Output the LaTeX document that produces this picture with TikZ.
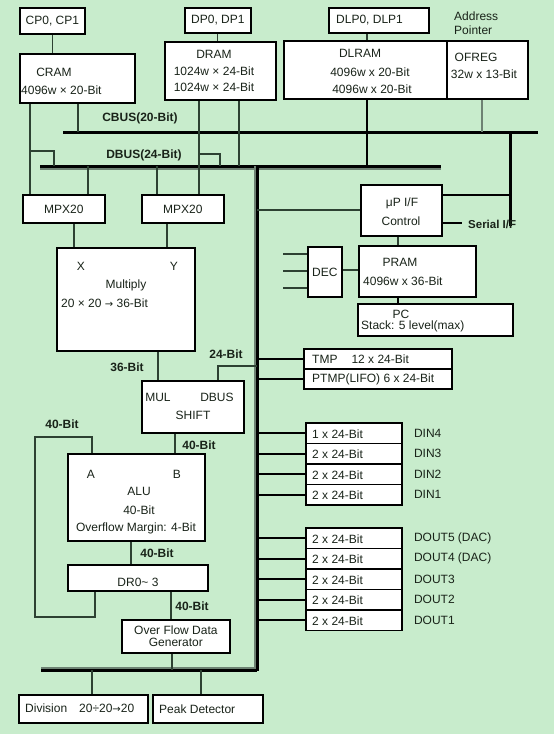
\documentclass[tikz,border=0pt]{standalone}
\usepackage{fontspec}
\setmainfont{Liberation Sans}
\newfontfamily\arrfont{DejaVu Sans}
\newcommand{\rarr}{{\arrfont\fontsize{10}{12}\selectfont →}}
\definecolor{bg}{RGB}{200,236,204}
\definecolor{wirec}{RGB}{45,65,50}
\definecolor{shade}{RGB}{110,130,115}
\definecolor{txt}{RGB}{25,35,25}
\tikzset{
  box/.style={draw=black, line width=1.8pt, fill=white, inner sep=0pt, anchor=north west, text=txt, font=\fontsize{12}{14}\selectfont, align=center},
  lbl/.style={inner sep=0pt, text=txt, font=\fontsize{12}{14}\selectfont},
  blbl/.style={inner sep=0pt, text=txt, font=\bfseries\fontsize{12}{14}\selectfont},
  wire/.style={draw=wirec, line width=1.1pt},
  twire/.style={draw=black, line width=2pt},
  busline/.style={draw=black, line width=3pt},
  busshade/.style={draw=shade, line width=2pt},
}
\begin{document}
\begin{tikzpicture}[x=1pt,y=-1pt]
\fill[bg] (0,0) rectangle (554,734);
\useasboundingbox (0,0) rectangle (554,734);

% ---- buses (coordinates)
\coordinate (cbusL) at (63,132);   \coordinate (cbusR) at (538,132);
\coordinate (sT) at (510,132);     \coordinate (sB) at (510,226);
\coordinate (dbusL) at (40,166);   \coordinate (dbusR) at (441,166);
\coordinate (mbT) at (257,166);    \coordinate (mbB) at (257,671);
\coordinate (bbL) at (41,670);     \coordinate (bbR) at (257,670);

\draw[busshade] ([yshift=-2.5pt]dbusL) -- ([yshift=-2.5pt]dbusR);
\draw[busline] (dbusL) -- (dbusR);
\draw[busshade] ([xshift=-2.5pt]mbT) -- ([xshift=-2.5pt]mbB);
\draw[busshade] ([yshift=2.5pt]bbL) -- ([yshift=2.5pt]bbR);
\draw[busline] (mbT) -- (mbB);
\draw[busline] (bbL) -- (bbR);
\draw[busline] (cbusL) -- (cbusR);
\draw[busline] (sT) -- (sB);

% ---- top memory blocks
\node[box, minimum width=65pt, minimum height=26pt] (cp) at (19,7) {CP0, CP1};
\node[box, minimum width=115pt, minimum height=49pt] (cram) at (19,53) {};
\node[lbl] (cramT) at (54,72) {CRAM};
\node[lbl, anchor=west] (cramS) at (21,90) {4096w × 20-Bit};

\node[box, minimum width=66pt, minimum height=25pt] (dp) at (184,7) {DP0, DP1};
\node[box, minimum width=111pt, minimum height=58pt] (dram) at (164,41) {};
\node[lbl, align=center, font=\fontsize{12}{16.5}\selectfont] (dramT) at (214,71) {DRAM\\1024w × 24-Bit\\1024w × 24-Bit};

\node[box, minimum width=100pt, minimum height=25pt] (dlp) at (328,7) {};
\node[lbl, anchor=west] (dlpT) at (336,20) {DLP0, DLP1};
\node[box, minimum width=163pt, minimum height=58pt] (dlram) at (283,40) {};
\node[lbl] (dlramT) at (360,53) {DLRAM};
\node[lbl] (dlramS1) at (370,72) {4096w x 20-Bit};
\node[lbl] (dlramS2) at (372,89) {4096w x 20-Bit};
\node[box, minimum width=81pt, minimum height=58pt] (ofreg) at (446,40) {};
\node[lbl] (ofregT) at (476,57) {OFREG};
\node[lbl] (ofregS) at (484,74) {32w x 13-Bit};
\node[lbl, anchor=west, align=left, font=\fontsize{12}{14}\selectfont] (addr) at (454,23) {Address\\Pointer};

\node[blbl] (cbusT) at (140,118) {CBUS(20-Bit)};
\node[blbl] (dbusT) at (144,155) {DBUS(24-Bit)};

% ---- top connectors
\draw[wire] (cp.south) -- (cp.south |- cram.north);
\coordinate (cr1) at ([xshift=11pt]cram.south west);
\coordinate (cr2) at ([xshift=59pt]cram.south west);
\draw[wire] (cr2) -- (cr2 |- cbusL);
\draw[wire] (dp.south) -- (dp.south |- dram.north);
\coordinate (dr1) at ([xshift=35pt]dram.south west);
\coordinate (dr2) at ([xshift=75pt]dram.south west);
\draw[wire] (dr2) -- (dr2 |- dbusL);
\coordinate (dl1) at ([xshift=84pt]dlram.south west);
\draw[wire] (dlp.south -| dl1) -- (dl1 |- dlram.north);
\draw[twire] (dl1) -- (dl1 |- dbusL);
\coordinate (of1) at ([xshift=36pt]ofreg.south west);
\draw[wire, draw=shade] (of1) -- (of1 |- cbusL);

% ---- MPX and multiplier
\node[box, minimum width=82pt, minimum height=28pt] (mpxl) at (22,194) {MPX20};
\node[box, minimum width=82pt, minimum height=28pt] (mpxr) at (141,194) {MPX20};
\draw[wire] (cr1) -- (cr1 |- mpxl.north);
\draw[wire] (cr1 |- 0,151) -| (54,0 |- dbusL);
\draw[wire] (dr1) -- (dr1 |- mpxr.north);
\draw[wire] (dr1 |- 0,154) -| (220,0 |- dbusL);
\draw[wire] (88,0 |- dbusL) -- (88,0 |- mpxl.north);
\draw[wire] (157,0 |- dbusL) -- (157,0 |- mpxr.north);

\node[box, minimum width=138pt, minimum height=103pt] (mult) at (56,247) {};
\node[lbl] (multX) at (81,266) {X};
\node[lbl] (multY) at (174,266) {Y};
\node[lbl] (multT) at (126,285) {Multiply};
\node[lbl, anchor=west] (multS) at (61,303) {20 × 20 \rarr\ 36-Bit};
\draw[wire] (74,0 |- mpxl.south) -- (74,0 |- mult.north);
\draw[wire] (167,0 |- mpxr.south) -- (167,0 |- mult.north);

\node[box, minimum width=102pt, minimum height=52pt] (mul) at (141,380) {};
\node[lbl] (mulA) at (158,397) {MUL};
\node[lbl] (mulB) at (217,397) {DBUS};
\node[lbl] (mulC) at (193,415) {SHIFT};
\draw[wire] (158,0 |- mult.south) -- (158,0 |- mul.north);
\node[blbl] (b36) at (127,367) {36-Bit};
\draw[wire] (218,0 |- mul.north) |- (mbT |- 0,366);
\node[blbl] (b24) at (226,354) {24-Bit};

% ---- ALU
\node[box, minimum width=137pt, minimum height=87pt] (alu) at (67,453) {};
\node[lbl] (aluA) at (91,474) {A};
\node[lbl] (aluB) at (177,474) {B};
\node[lbl] (aluT) at (139,491) {ALU};
\node[lbl] (aluS1) at (139,510) {40-Bit};
\node[lbl] (aluS2) at (136,528) {Overflow Margin: 4-Bit};
\draw[wire] (175,0 |- mul.south) -- (175,0 |- alu.north);
\node[blbl] (b40a) at (199,445) {40-Bit};

\node[box, minimum width=140pt, minimum height=26pt] (dr) at (67,564) {};
\node[lbl] (drT) at (138,582) {DR0\textasciitilde\ 3};
\draw[wire] (131,0 |- alu.south) -- (131,0 |- dr.north);
\node[blbl] (b40b) at (157,553) {40-Bit};
\draw[wire] (92,0 |- alu.north) -- (92,437) -- (35,437) -- (35,617) -- (95,617) -- (95,0 |- dr.south);
\node[blbl] (b40c) at (62,424) {40-Bit};

\node[box, minimum width=108pt, minimum height=33pt, font=\fontsize{12}{12.5}\selectfont] (ofdg) at (121,619) {Over Flow Data\\Generator};
\draw[wire] (171,0 |- dr.south) -- (171,0 |- ofdg.north);
\node[blbl] (b40d) at (192,606) {40-Bit};
\draw[wire] (172,0 |- ofdg.south) -- (172,0 |- bbL);

\node[box, minimum width=129pt, minimum height=28pt] (div) at (18,694) {};
\node[lbl, anchor=west] (divT) at (25,708) {Division\hspace{12pt}20÷20\rarr 20};
\node[box, minimum width=110pt, minimum height=28pt] (peak) at (152,694) {};
\node[lbl, anchor=west] (peakT) at (159,709) {Peak Detector};
\draw[wire] (92,0 |- bbL) -- (92,0 |- div.north);
\draw[wire] (201,0 |- bbL) -- (201,0 |- peak.north);

% ---- right side: uP I/F, PRAM
\node[box, minimum width=81pt, minimum height=51pt] (up) at (360,184) {};
\node[lbl] (upT) at (402,203) {μP I/F};
\node[lbl] (upS) at (401,221) {Control};
\draw[wire] (mbT |- 0,210) -- (up.west |- 0,210);
\draw[twire] (up.east |- 0,195) -- (sT |- 0,195);
\coordinate (ser) at (462,223);
\draw[twire] (up.east |- ser) -- (ser);
\node[blbl, anchor=west, font=\bfseries\fontsize{11.5}{14}\selectfont] (serT) at (468,224) {Serial I/F};

\node[box, minimum width=117pt, minimum height=51pt] (pram) at (358,245) {};
\node[lbl] (pramT) at (400,262) {PRAM};
\node[lbl, anchor=west] (pramS) at (363,281) {4096w x 36-Bit};
\draw[wire] (398,0 |- up.south) -- (398,0 |- pram.north);
\node[box, minimum width=34pt, minimum height=50pt] (dec) at (307,246) {DEC};
\draw[wire] (dec.east |- 0,270) -- (pram.west |- 0,270);
\coordinate (d1) at (283,254); \coordinate (d2) at (283,271); \coordinate (d3) at (283,288);
\draw[wire] (d1) -- (dec.west |- d1);
\draw[wire] (d2) -- (dec.west |- d2);
\draw[wire] (d3) -- (dec.west |- d3);

\node[box, minimum width=155pt, minimum height=32pt] (pc) at (357,303) {};
\node[lbl] (pcT) at (401,314) {PC};
\node[lbl, anchor=west] (pcS) at (361,326) {Stack: 5 level(max)};
\draw[twire] (398,0 |- pram.south) -- (398,0 |- pc.north);

% ---- TMP
\node[box, minimum width=148pt, minimum height=20pt] (tmp) at (303,348) {};
\node[lbl, anchor=west] (tmpT) at (312,359) {TMP\hspace{14pt}12 x 24-Bit};
\node[box, minimum width=148pt, minimum height=20pt] (ptmp) at (303,368) {};
\node[lbl, anchor=west] (ptmpT) at (312,379) {PTMP(LIFO) 6 x 24-Bit};
\draw[twire] (mbT |- tmp.west) -- (tmp.west);
\draw[twire] (mbT |- ptmp.west) -- (ptmp.west);

% ---- DIN
\foreach \n/\y/\t/\l in {din4/422/1/DIN4, din3/442.5/2/DIN3, din2/463/2/DIN2, din1/483.5/2/DIN1}{
  \node[box, minimum width=96pt, minimum height=20.5pt] (\n) at (305,\y) {};
  \node[lbl, anchor=west] (\n t) at ([xshift=7pt,yshift=-1pt]\n.west) {\t\ x 24-Bit};
  \node[lbl, anchor=west] (\n l) at ([xshift=11pt]\n.east) {\l};
  \draw[twire] (mbT |- \n.west) -- (\n.west);
}
% ---- DOUT
\foreach \n/\y/\l in {dout5/527/DOUT5 (DAC), dout4/547.5/DOUT4 (DAC), dout3/568/DOUT3, dout2/588.5/DOUT2, dout1/609/DOUT1}{
  \node[box, minimum width=96pt, minimum height=20.5pt] (\n) at (305,\y) {};
  \node[lbl, anchor=west] (\n t) at ([xshift=7pt,yshift=-1pt]\n.west) {2 x 24-Bit};
  \node[lbl, anchor=west] (\n l) at ([xshift=11pt]\n.east) {\l};
  \draw[twire] (mbT |- \n.west) -- (\n.west);
}
\end{tikzpicture}
\end{document}
